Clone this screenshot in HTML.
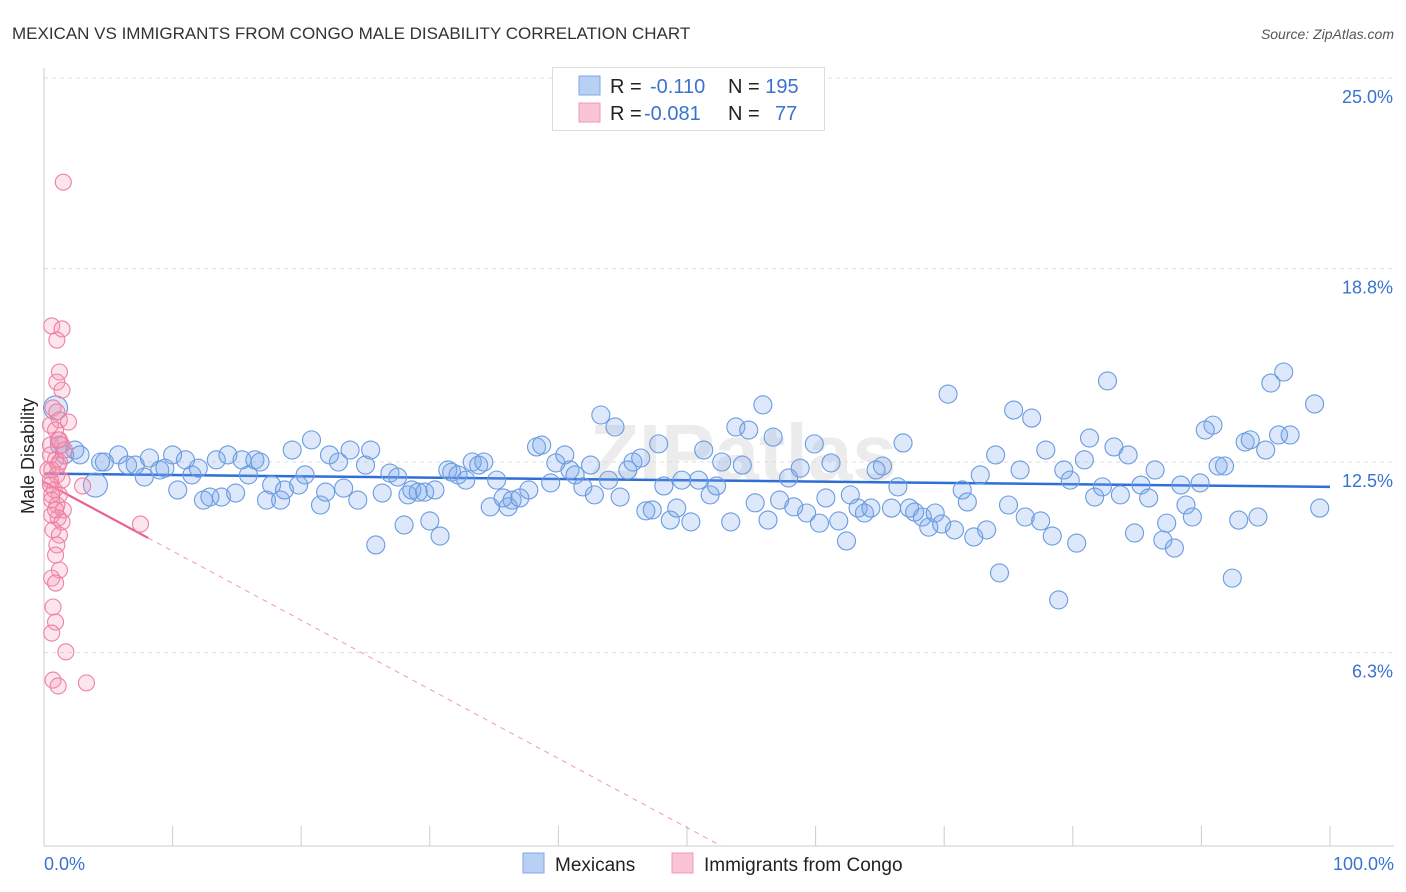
<!DOCTYPE html>
<html><head><meta charset="utf-8"><style>
body{margin:0;background:#fff;font-family:"Liberation Sans",sans-serif;}
svg{display:block}
</style></head><body>
<svg id="chart" width="1406" height="892">
<text x="12" y="39" font-size="17" fill="#333">MEXICAN VS IMMIGRANTS FROM CONGO MALE DISABILITY CORRELATION CHART</text>
<text x="1394" y="39" font-size="14" fill="#555" font-style="italic" text-anchor="end">Source: ZipAtlas.com</text>
<text x="590" y="480" font-size="80" fill="#ececec" font-weight="bold">ZIPatlas</text>
<g id="grid"></g><g id="axes"></g><g id="trends"></g><g id="pts"></g>
<text transform="translate(34,456) rotate(-90)" font-size="18" fill="#222" text-anchor="middle">Male Disability</text>
<text x="44" y="870" font-size="18" fill="#3a72d0">0.0%</text>
<text x="1394" y="870" font-size="18" fill="#3a72d0" text-anchor="end">100.0%</text>
<g>
<rect x="552.5" y="67.5" width="272" height="63" fill="#fff" stroke="#ddd"/>
<rect x="579" y="76" width="21" height="19" fill="#b8d0f4" stroke="#7fa8e6"/>
<rect x="579" y="103" width="21" height="19" fill="#f9c4d4" stroke="#f09ab4"/>
<text x="610" y="93" font-size="20" fill="#222">R = <tspan fill="#3a72d0" x="650">-0.110</tspan><tspan x="728">N = </tspan><tspan fill="#3a72d0">195</tspan></text>
<text x="610" y="120" font-size="20" fill="#222">R = <tspan fill="#3a72d0" x="644">-0.081</tspan><tspan x="728">N = </tspan><tspan fill="#3a72d0" x="775">77</tspan></text>
</g>
<g>
<rect x="523" y="853" width="21" height="20" fill="#b8d0f4" stroke="#7fa8e6"/>
<text x="555" y="871" font-size="19" fill="#222">Mexicans</text>
<rect x="672" y="853" width="21" height="20" fill="#f9c4d4" stroke="#f09ab4"/>
<text x="704" y="871" font-size="19" fill="#222">Immigrants from Congo</text>
</g>
</svg>
<script>
const yTicks=[6.3,12.5,18.8,25.0];
const yTickLabels=["6.3%","12.5%","18.8%","25.0%"];
const xTicks=[0,10,20,30,40,50,60,70,80,90,100];
const mexX=[0.9,1.2,1.6,2.4,2.8,4.0,4.4,4.7,5.8,6.5,7.1,7.8,8.2,9.0,9.4,10.0,10.4,11.0,11.5,12.0,12.4,12.9,13.4,13.8,14.3,14.9,15.4,15.9,16.4,16.8,17.3,17.7,18.4,18.7,19.3,19.8,20.3,20.8,21.5,21.9,22.2,22.9,23.3,23.8,24.4,25.0,25.4,25.8,26.3,26.9,27.5,28.0,28.3,28.6,29.1,29.6,30.0,30.4,30.8,31.4,31.7,32.2,32.8,33.3,33.8,34.2,34.7,35.2,35.7,36.1,36.4,37.0,37.7,38.3,38.7,39.4,39.8,40.5,40.9,41.3,41.9,42.5,42.8,43.3,43.9,44.4,44.8,45.4,45.8,46.4,46.8,47.3,47.8,48.2,48.7,49.2,49.6,50.3,50.9,51.3,51.8,52.3,52.7,53.4,53.8,54.3,54.8,55.3,55.9,56.3,56.7,57.2,57.9,58.3,58.8,59.3,59.9,60.3,60.8,61.2,61.8,62.4,62.7,63.3,63.8,64.3,64.7,65.2,65.9,66.4,66.8,67.3,67.7,68.3,68.8,69.3,69.8,70.3,70.8,71.4,71.8,72.3,72.8,73.3,74.0,74.3,75.0,75.4,75.9,76.3,76.8,77.5,77.9,78.4,78.9,79.3,79.8,80.3,80.9,81.3,81.7,82.3,82.7,83.2,83.7,84.3,84.8,85.3,85.9,86.4,87.0,87.3,87.9,88.4,88.8,89.3,89.9,90.3,90.9,91.3,91.8,92.4,92.9,93.4,93.8,94.4,95.0,95.4,96.0,96.4,96.9,98.8,99.2];
const mexY=[14.26,13.05,12.73,12.89,12.73,11.75,12.5,12.5,12.73,12.40,12.40,12.01,12.63,12.24,12.30,12.73,11.59,12.57,12.08,12.30,11.26,11.36,12.57,11.36,12.73,11.49,12.57,12.08,12.57,12.5,11.26,11.75,11.26,11.59,12.89,11.75,12.08,13.22,11.10,11.52,12.73,12.5,11.65,12.89,11.26,12.40,12.89,9.80,11.49,12.14,12.01,10.45,11.43,11.59,11.52,11.52,10.58,11.59,10.09,12.24,12.17,12.08,11.91,12.5,12.40,12.5,11.04,11.91,11.33,11.04,11.26,11.33,11.59,12.99,13.05,11.82,12.47,12.73,12.24,12.08,11.69,12.40,11.43,14.03,11.91,13.64,11.36,12.24,12.5,12.63,10.91,10.94,13.09,11.72,10.61,11.00,11.91,10.55,11.91,12.89,11.43,11.72,12.5,10.55,13.64,12.40,13.54,11.17,14.36,10.61,13.31,11.26,11.98,11.04,12.30,10.84,13.09,10.51,11.33,12.47,10.58,9.93,11.43,11.00,10.84,11.00,12.24,12.37,11.00,11.69,13.12,11.00,10.87,10.71,10.38,10.84,10.48,14.71,10.29,11.59,11.20,10.06,12.08,10.29,12.73,8.89,11.10,14.19,12.24,10.71,13.93,10.58,12.89,10.09,8.01,12.24,11.91,9.86,12.57,13.28,11.36,11.69,15.14,12.99,11.43,12.73,10.19,11.75,11.33,12.24,9.96,10.51,9.70,11.75,11.10,10.71,11.82,13.54,13.70,12.37,12.37,8.72,10.61,13.15,13.22,10.71,12.89,15.07,13.38,15.43,13.38,14.39,11.00];
const congoX=[1.5,0.6,1.4,1.0,1.2,1.0,1.4,0.7,1.0,1.2,1.9,0.5,0.9,1.1,1.4,0.5,0.9,1.2,0.6,1.0,1.4,0.5,0.8,1.2,0.6,1.0,1.5,0.6,1.1,1.4,0.7,1.2,1.0,0.9,1.2,0.6,0.9,0.7,0.9,0.6,1.7,0.7,1.1,3.3,3.0,7.5,0.5,0.3,0.6,0.9,1.2,1.6,1.1,0.5];
const congoY=[21.61,16.93,16.83,16.47,15.43,15.10,14.84,14.26,14.13,13.87,13.80,13.70,13.54,13.22,13.05,12.73,12.57,12.5,12.24,12.08,11.91,11.75,11.59,11.43,11.26,11.10,10.94,10.77,10.68,10.55,10.29,10.12,9.80,9.47,8.98,8.72,8.56,7.78,7.29,6.93,6.32,5.40,5.21,5.31,11.72,10.48,13.05,12.24,11.43,10.94,13.22,12.89,12.40,11.91];
const mexTrend=[12.12,11.69];
const congoTrend=[11.85,-0.225];
const congoSolidEnd=8.1;
const NS="http://www.w3.org/2000/svg";
const X0=44,X1=1330,Y0=846,PPY=30.72;
function sx(v){return X0+(X1-X0)*v/100;}
function sy(v){return Y0-v*PPY;}
function mk(tag,attrs,parent){const e=document.createElementNS(NS,tag);for(const k in attrs)e.setAttribute(k,attrs[k]);parent.appendChild(e);return e;}
const grid=document.getElementById('grid'),axes=document.getElementById('axes'),tr=document.getElementById('trends'),pts=document.getElementById('pts');
yTicks.forEach((t,i)=>{
 const l=mk('line',{x1:X0,x2:1394,y1:sy(t),y2:sy(t),stroke:'#ddd','stroke-dasharray':'4,4'},grid);
 
 
 const tx=mk('text',{x:1393,y:sy(t)+25,'font-size':18,fill:'#3a72d0','text-anchor':'end'},grid);
 tx.textContent=yTickLabels[i];
 
 
});
const ya=mk('line',{x1:X0,x2:X0,y1:68,y2:Y0,stroke:'#ccc'},axes);


const xa=mk('line',{x1:X0,x2:1394,y1:Y0,y2:Y0,stroke:'#ccc'},axes);


xTicks.forEach(t=>{
 const l=mk('line',{x1:sx(t),x2:sx(t),y1:826,y2:Y0,stroke:'#ccc'},axes);
 
 
});
mexX.forEach((x,i)=>{
 const c=mk('circle',{cx:sx(x),cy:sy(mexY[i]),r:(i==0||i==5)?12:9,fill:'rgba(120,165,235,0.25)',stroke:'#6a9be0','stroke-width':1.1},pts);
 
 
});
congoX.forEach((x,i)=>{
 const c=mk('circle',{cx:sx(x),cy:sy(congoY[i]),r:8,fill:'rgba(245,150,180,0.25)',stroke:'#ef7fa3','stroke-width':1.1},pts);
 
 
});
const mt=mk('line',{x1:sx(0),y1:sy(mexTrend[0]),x2:sx(100),y2:sy(mexTrend[1]),stroke:'#2d6fd6','stroke-width':2.5},tr);


const cy=x=>congoTrend[0]+congoTrend[1]*x;
const xz=-congoTrend[0]/congoTrend[1];
const cd=mk('line',{x1:sx(congoSolidEnd),y1:sy(cy(congoSolidEnd)),x2:sx(xz),y2:sy(0),stroke:'#ef9ab4','stroke-width':1,'stroke-dasharray':'5,5'},tr);


const cs=mk('line',{x1:sx(0),y1:sy(cy(0)),x2:sx(congoSolidEnd),y2:sy(cy(congoSolidEnd)),stroke:'#e8628c','stroke-width':2.2},tr);


</script>
</body></html>
